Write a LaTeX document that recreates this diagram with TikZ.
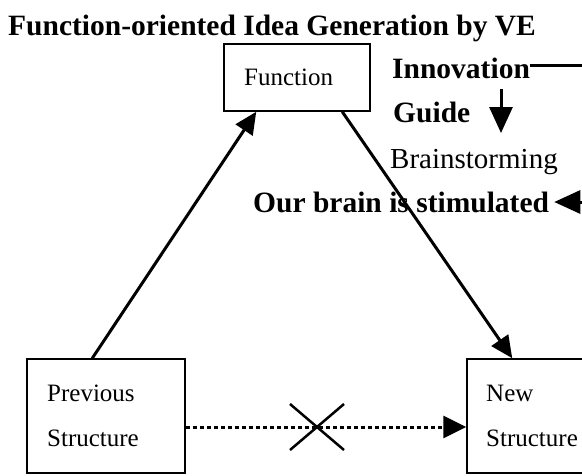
\documentclass[tikz,border=0pt]{standalone}
\usepackage{fontspec}
\setmainfont{Liberation Serif}
\usetikzlibrary{arrows.meta}
\begin{document}
\begin{tikzpicture}[x=1pt,y=-1pt,
  box/.style={draw,line width=1.5pt,inner sep=0pt},
  lbl/.style={anchor=base west,inner sep=0pt,font=\fontsize{29.5}{30}\selectfont\bfseries},
  plain/.style={anchor=base west,inner sep=0pt,font=\fontsize{25}{26}\selectfont},
  arr/.style={line width=3pt,-{Triangle[length=22pt,width=20pt]}},
  looparr/.style={line width=3pt,-{Triangle[length=26pt,width=23pt]}},
  dotline/.style={line width=3pt,dash pattern=on 4.5pt off 2.5pt,-{Triangle[length=23pt,width=22pt]}},
  cross/.style={line width=2.5pt}]
\useasboundingbox (0,0) rectangle (582,475);
\clip (0,0) rectangle (582,475);

% title
\node[lbl] (title) at (8,35) {Function-oriented Idea Generation by VE};

% boxes
\node[box,minimum width=146pt,minimum height=67pt] (func) at (297,77.5) {};
\node[box,minimum width=158pt,minimum height=114pt] (prev) at (106,416) {};
\node[box,minimum width=118pt,minimum height=114pt] (new) at (526,416) {};

% box texts
\node[plain] (functxt) at (244,85) {Function};
\node[plain] (prevtxt1) at (47,401) {Previous};
\node[plain] (prevtxt2) at (47,446) {Structure};
\node[plain] (newtxt1) at (486,401) {New};
\node[plain] (newtxt2) at (486,446) {Structure};

% side labels
\node[lbl] (innov) at (392,78) {Innovation};
\node[lbl] (guide) at (393,122) {Guide};
\node[anchor=base west,inner sep=0pt,font=\fontsize{29}{30}\selectfont] (brain) at (390,168) {Brainstorming};
\node[lbl] (stim) at (253,212) {Our brain is stimulated};

% free ends of the loop on the right
\coordinate (loopout) at (583,65);
\coordinate (loopin) at (583,202);
\coordinate (down1) at (501,89);
\coordinate (down2) at (501,133);

% triangle of connectors
\draw[arr] ([xshift=66pt]prev.north west) -- ([xshift=33pt]func.south west);
\draw[arr] ([xshift=119pt]func.south west) -- ([xshift=46pt]new.north west);
\draw[dotline] ([yshift=-11pt]prev.east) -- ([yshift=-11pt]new.west);

% crossed-out mark on the dotted path
\coordinate (xc) at (317,427);
\draw[cross] ([shift={(-27,-23)}]xc) -- ([shift={(27,23)}]xc);
\draw[cross] ([shift={(-27,23)}]xc) -- ([shift={(27,-23)}]xc);

% loop on the right
\draw[line width=3pt] ([yshift=13pt]innov.base east) -- (loopout);
\draw[looparr] (down1) -- (down2);
\draw[looparr] (loopin) -- ([xshift=5pt,yshift=10pt]stim.base east);
\end{tikzpicture}
\end{document}
